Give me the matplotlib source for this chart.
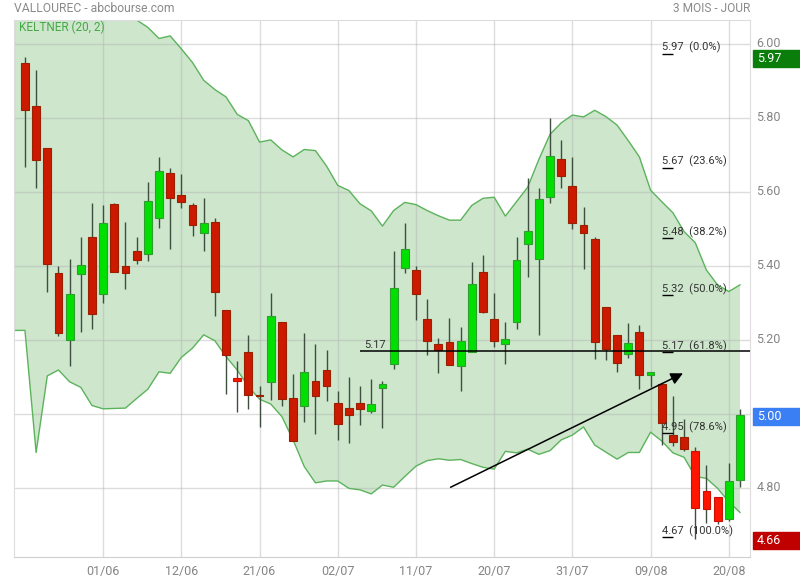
import numpy as np
import pandas as pd
import matplotlib
matplotlib.use("Agg")
import matplotlib.pyplot as plt
from matplotlib.patches import Rectangle
from matplotlib.transforms import blended_transform_factory, ScaledTranslation

plt.rcParams["font.family"] = ["Roboto", "DejaVu Sans"]

# daily sessions, 3 months
dates = pd.bdate_range("2018-05-23", "2018-08-21")

opens = [5.948, 5.832, 5.718, 5.380, 5.200, 5.378, 5.478, 5.324, 5.567, 5.399,
         5.441, 5.432, 5.529, 5.651, 5.591, 5.564, 5.488, 5.518, 5.280, 5.096,
         5.167, 5.052, 5.087, 5.248, 5.042, 5.021, 5.088, 5.119, 5.029, 5.016,
         5.030, 5.009, 5.069, 5.134, 5.394, 5.388, 5.256, 5.188, 5.195, 5.129,
         5.167, 5.383, 5.256, 5.188, 5.250, 5.459, 5.418, 5.586, 5.689, 5.615,
         5.510, 5.473, 5.288, 5.213, 5.161, 5.223, 5.105, 5.080, 4.942, 4.937,
         4.900, 4.791, 4.776, 4.715, 4.822]
highs = [5.966, 5.930, 5.718, 5.400, 5.419, 5.478, 5.571, 5.565, 5.570, 5.519,
         5.478, 5.627, 5.695, 5.665, 5.649, 5.570, 5.583, 5.530, 5.280, 5.143,
         5.214, 5.076, 5.327, 5.248, 5.108, 5.219, 5.189, 5.173, 5.062, 5.100,
         5.076, 5.095, 5.089, 5.441, 5.516, 5.400, 5.311, 5.205, 5.259, 5.235,
         5.411, 5.430, 5.328, 5.249, 5.479, 5.638, 5.611, 5.800, 5.741, 5.695,
         5.559, 5.478, 5.288, 5.213, 5.246, 5.240, 5.113, 5.085, 5.049, 4.986,
         4.910, 4.862, 4.776, 4.868, 5.014]
lows = [5.668, 5.612, 5.331, 5.211, 5.131, 5.222, 5.230, 5.301, 5.383, 5.337,
        5.405, 5.413, 5.504, 5.447, 5.558, 5.482, 5.441, 5.266, 5.055, 5.006,
        5.014, 4.966, 5.038, 5.022, 4.928, 4.978, 4.947, 5.035, 4.930, 4.922,
        4.971, 5.002, 4.961, 5.122, 5.382, 5.255, 5.160, 5.112, 5.132, 5.063,
        5.167, 5.274, 5.182, 5.134, 5.229, 5.371, 5.214, 5.571, 5.611, 5.501,
        5.393, 5.148, 5.145, 5.113, 5.152, 5.067, 5.074, 4.915, 4.914, 4.901,
        4.663, 4.705, 4.702, 4.711, 4.802]
closes = [5.823, 5.686, 5.405, 5.218, 5.324, 5.402, 5.269, 5.516, 5.383, 5.380,
          5.415, 5.577, 5.656, 5.583, 5.572, 5.510, 5.515, 5.329, 5.159, 5.088,
          5.051, 5.050, 5.264, 5.040, 4.928, 5.113, 5.050, 5.077, 4.974, 4.998,
          5.014, 5.027, 5.080, 5.340, 5.446, 5.324, 5.196, 5.174, 5.132, 5.197,
          5.351, 5.277, 5.196, 5.202, 5.415, 5.495, 5.581, 5.697, 5.644, 5.517,
          5.488, 5.194, 5.177, 5.137, 5.191, 5.105, 5.113, 4.975, 4.923, 4.906,
          4.747, 4.742, 4.710, 4.818, 4.996]

# Keltner (20, 2) channel
keltner_upper = [6.45, 6.60, 6.50, 6.42, 6.35, 6.30, 6.25, 6.20, 6.16, 6.11,
                 6.065, 6.045, 6.015, 6.022, 5.987, 5.950, 5.902, 5.877, 5.857, 5.810,
                 5.793, 5.735, 5.741, 5.714, 5.695, 5.715, 5.712, 5.670, 5.618, 5.604,
                 5.568, 5.549, 5.508, 5.550, 5.572, 5.566, 5.550, 5.536, 5.524, 5.524,
                 5.564, 5.583, 5.586, 5.535, 5.574, 5.613, 5.688, 5.756, 5.787, 5.808,
                 5.803, 5.821, 5.804, 5.781, 5.739, 5.695, 5.605, 5.574, 5.544, 5.493,
                 5.463, 5.389, 5.349, 5.331, 5.349]
keltner_lower = [5.226, 4.896, 5.103, 5.119, 5.087, 5.072, 5.023, 5.014, 5.015, 5.016,
                 5.042, 5.067, 5.114, 5.110, 5.153, 5.178, 5.214, 5.198, 5.155, 5.119,
                 5.074, 5.040, 5.027, 4.993, 4.930, 4.858, 4.814, 4.819, 4.819, 4.799,
                 4.795, 4.784, 4.808, 4.802, 4.831, 4.859, 4.874, 4.879, 4.875, 4.877,
                 4.866, 4.856, 4.851, 4.899, 4.895, 4.905, 4.891, 4.901, 4.930, 4.943,
                 4.965, 4.916, 4.897, 4.878, 4.896, 4.896, 4.951, 4.927, 4.895, 4.883,
                 4.831, 4.826, 4.799, 4.763, 4.734]

# sessions drawn in bright red
bright_red_days = [19, 60, 61, 62]

# Fibonacci retracement
fib_high = 5.974
fib_low = 4.668
fib_pcts = [0.0, 23.6, 38.2, 50.0, 61.8, 78.6, 100.0]
fib_label_day = 57

# horizontal line and trend arrow (session index, price)
support_level = 5.17
support_from = 30
trend_start = (38.1, 4.802)
trend_end = (58.9, 5.110)

y_ticks = [4.8, 5.0, 5.2, 5.4, 5.6, 5.8, 6.0]
tick_every = 7

x = np.arange(len(dates))
opens, highs, lows, closes = map(np.array, (opens, highs, lows, closes))

fig = plt.figure(figsize=(8, 5.8), dpi=100)
ax = fig.add_axes([14 / 800, 1 - 557 / 580, 736 / 800, 537 / 580])
ax.set_xlim(-0.98, 64.9)
ax.set_ylim(4.6135, 6.065)

# channel
xb = np.r_[-0.98, x]
up = np.r_[keltner_upper[0], keltner_upper]
lo = np.r_[keltner_lower[0], keltner_lower]
ax.fill_between(xb, lo, up, color="#cde6cc", lw=0, zorder=0.8)
ax.plot(xb, up, color="#5cb35c", lw=1, zorder=2)
ax.plot(xb, lo, color="#5cb35c", lw=1, zorder=2)
ax.plot([xb[0], xb[0]], [lo[0], up[0]], color="#8cc88c", lw=1.5, zorder=2)

# grid + frame
ax.set_xticks(x[tick_every::tick_every])
ax.set_xticklabels([d.strftime("%d/%m") for d in dates[tick_every::tick_every]])
ax.set_yticks(y_ticks)
ax.set_yticklabels([f"{v:.2f}" for v in y_ticks])
ax.set_axisbelow("line")
ax.grid(True, color="#b4b4b4", alpha=0.45, lw=1)
ax.yaxis.tick_right()
ax.tick_params(axis="both", length=0, labelsize=9, labelcolor="#858585")
ax.tick_params(axis="y", pad=4.5)
ax.tick_params(axis="x", pad=6)
lift = ScaledTranslation(0, 0.025, fig.dpi_scale_trans)
for lab in ax.get_yticklabels():
    lab.set_transform(lab.get_transform() + lift)
for side in ax.spines:
    ax.spines[side].set_color("#dddddd")
ax.spines["bottom"].set_color("#cfcfcf")

# candles
body_col, edge_col = [], []
for i in x:
    if closes[i] >= opens[i]:
        body_col.append("#00e000")
        edge_col.append("#2f9e2f")
    elif i in bright_red_days:
        body_col.append("#ff1500")
        edge_col.append("#cc1100")
    else:
        body_col.append("#cc1a00")
        edge_col.append("#992000")
ax.vlines(x, lows, highs, color="#3f4f3f", lw=1, zorder=3)
bottoms = np.minimum(opens, closes)
heights = np.maximum(np.abs(closes - opens), 0.002)
ax.bar(x, heights, bottom=bottoms, width=0.7, color=body_col,
       edgecolor=edge_col, lw=0.8, zorder=4)

# horizontal line 5.17
ax.hlines(support_level, support_from, ax.get_xlim()[1], color="black", lw=1.1, zorder=5)
ax.annotate(f"{support_level:.2f}", (support_from + 0.4, support_level),
            xytext=(0, 2), textcoords="offset points", fontsize=8,
            color="#333333", va="baseline", zorder=6)

# fibonacci levels
for pct in fib_pcts:
    lvl = fib_high - (fib_high - fib_low) * pct / 100
    ax.annotate(f"{lvl:.2f}  ({pct:.1f}%)", (fib_label_day, lvl),
                xytext=(0, 2), textcoords="offset points", fontsize=8,
                color="#333333", va="baseline", zorder=6)
    ax.hlines(lvl, fib_label_day, fib_label_day + 1, color="black", lw=1, zorder=6)

# trend arrow
ax.annotate("", xy=trend_end, xytext=trend_start,
            arrowprops=dict(arrowstyle="-|>", color="black", lw=1.1,
                            mutation_scale=18, shrinkA=0, shrinkB=0), zorder=6)

# price flags on the right
blend = blended_transform_factory(fig.transFigure, ax.transData)
flag_h = 17 / 370
flags = [(highs.max(), "#0a7d0a"), (closes[-1], "#3b7ff5"), (lows.min(), "#c00000")]
for val, col in flags:
    ax.add_patch(Rectangle((753 / 800, val - flag_h / 2 - 1.5 / 370), 47 / 800, flag_h,
                           transform=blend, color=col, clip_on=False, zorder=7))
    ax.text(757 / 800, val - 1.5 / 370, f"{val:.2f}", transform=blend, color="white",
            fontsize=9, va="center", ha="left", zorder=8)

ax.text(5 / 736, 1 - 7 / 537, "KELTNER (20, 2)", transform=ax.transAxes,
        color="#45a845", fontsize=8.5, va="center", ha="left")
fig.text(14 / 800, 1 - 9 / 580, "VALLOUREC - abcbourse.com", color="#8a8a8a",
         fontsize=8.7, va="center", ha="left")
fig.text(750 / 800, 1 - 9 / 580, "3 MOIS - JOUR", color="#8a8a8a",
         fontsize=8.6, va="center", ha="right")

fig.savefig("out.png", dpi=100)
